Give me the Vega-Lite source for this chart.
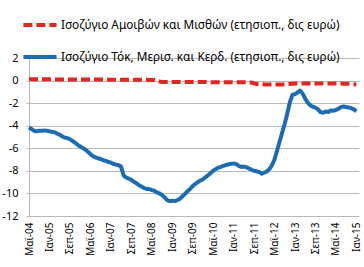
{
  "$schema": "https://vega.github.io/schema/vega-lite/v6.json",
  "autosize": {"type": "none"},
  "padding": {"left": 29, "top": 58, "right": 5, "bottom": 51},
  "width": 330,
  "height": 158,
  "background": "white",
  "config": {
    "view": {"stroke": null},
    "font": "Noto Sans",
    "axis": {"labelFont": "Noto Sans", "labelColor": "#000000", "labelFontSize": 11}
  },
  "data": {"values": [
    {"d":"2004-05","b":-4.15,"r":0.15},{"d":"2004-06","b":-4.3,"r":0.12},{"d":"2004-07","b":-4.45,"r":0.12},{"d":"2004-08","b":-4.5,"r":0.12},
    {"d":"2004-09","b":-4.45,"r":0.12},{"d":"2004-10","b":-4.45,"r":0.12},{"d":"2004-11","b":-4.42,"r":0.12},{"d":"2004-12","b":-4.45,"r":0.12},
    {"d":"2005-01","b":-4.5,"r":0.12},{"d":"2005-02","b":-4.55,"r":0.12},{"d":"2005-03","b":-4.58,"r":0.11},{"d":"2005-04","b":-4.7,"r":0.1},
    {"d":"2005-05","b":-4.8,"r":0.1},{"d":"2005-06","b":-4.95,"r":0.1},{"d":"2005-07","b":-5.05,"r":0.1},{"d":"2005-08","b":-5.1,"r":0.1},
    {"d":"2005-09","b":-5.2,"r":0.1},{"d":"2005-10","b":-5.35,"r":0.1},{"d":"2005-11","b":-5.5,"r":0.1},{"d":"2005-12","b":-5.7,"r":0.1},
    {"d":"2006-01","b":-5.85,"r":0.1},{"d":"2006-02","b":-5.98,"r":0.1},{"d":"2006-03","b":-6.1,"r":0.1},{"d":"2006-04","b":-6.3,"r":0.1},
    {"d":"2006-05","b":-6.5,"r":0.1},{"d":"2006-06","b":-6.7,"r":0.1},{"d":"2006-07","b":-6.8,"r":0.1},{"d":"2006-08","b":-6.88,"r":0.1},
    {"d":"2006-09","b":-6.95,"r":0.1},{"d":"2006-10","b":-7.05,"r":0.1},{"d":"2006-11","b":-7.12,"r":0.1},{"d":"2006-12","b":-7.2,"r":0.08},
    {"d":"2007-01","b":-7.28,"r":0.08},{"d":"2007-02","b":-7.38,"r":0.08},{"d":"2007-03","b":-7.45,"r":0.08},{"d":"2007-04","b":-7.5,"r":0.08},
    {"d":"2007-05","b":-7.62,"r":0.08},{"d":"2007-06","b":-8.4,"r":0.08},{"d":"2007-07","b":-8.6,"r":0.08},{"d":"2007-08","b":-8.68,"r":0.08},
    {"d":"2007-09","b":-8.8,"r":0.08},{"d":"2007-10","b":-8.97,"r":0.08},{"d":"2007-11","b":-9.1,"r":0.08},{"d":"2007-12","b":-9.27,"r":0.08},
    {"d":"2008-01","b":-9.4,"r":0.08},{"d":"2008-02","b":-9.52,"r":0.08},{"d":"2008-03","b":-9.6,"r":0.07},{"d":"2008-04","b":-9.62,"r":0.06},
    {"d":"2008-05","b":-9.7,"r":0.06},{"d":"2008-06","b":-9.78,"r":0.05},{"d":"2008-07","b":-9.9,"r":0.0},
    {"d":"2008-08","b":-10.0,"r":-0.08},{"d":"2008-09","b":-10.15,"r":-0.12},{"d":"2008-10","b":-10.35,"r":-0.12},{"d":"2008-11","b":-10.6,"r":-0.12},
    {"d":"2008-12","b":-10.68,"r":-0.12},{"d":"2009-01","b":-10.65,"r":-0.12},{"d":"2009-02","b":-10.68,"r":-0.12},{"d":"2009-03","b":-10.6,"r":-0.12},
    {"d":"2009-04","b":-10.48,"r":-0.12},{"d":"2009-05","b":-10.25,"r":-0.12},{"d":"2009-06","b":-10.05,"r":-0.12},{"d":"2009-07","b":-9.8,"r":-0.12},
    {"d":"2009-08","b":-9.6,"r":-0.12},{"d":"2009-09","b":-9.35,"r":-0.12},{"d":"2009-10","b":-9.15,"r":-0.12},{"d":"2009-11","b":-9.0,"r":-0.12},
    {"d":"2009-12","b":-8.85,"r":-0.12},{"d":"2010-01","b":-8.75,"r":-0.12},{"d":"2010-02","b":-8.55,"r":-0.12},{"d":"2010-03","b":-8.4,"r":-0.13},
    {"d":"2010-04","b":-8.2,"r":-0.14},{"d":"2010-05","b":-8.0,"r":-0.15},{"d":"2010-06","b":-7.85,"r":-0.15},{"d":"2010-07","b":-7.72,"r":-0.15},
    {"d":"2010-08","b":-7.65,"r":-0.15},{"d":"2010-09","b":-7.55,"r":-0.15},{"d":"2010-10","b":-7.48,"r":-0.15},{"d":"2010-11","b":-7.42,"r":-0.15},
    {"d":"2010-12","b":-7.38,"r":-0.15},{"d":"2011-01","b":-7.35,"r":-0.15},{"d":"2011-02","b":-7.4,"r":-0.15},{"d":"2011-03","b":-7.55,"r":-0.15},
    {"d":"2011-04","b":-7.65,"r":-0.15},{"d":"2011-05","b":-7.62,"r":-0.15},{"d":"2011-06","b":-7.68,"r":-0.16},{"d":"2011-07","b":-7.78,"r":-0.17},
    {"d":"2011-08","b":-7.9,"r":-0.18},{"d":"2011-09","b":-8.0,"r":-0.25},{"d":"2011-10","b":-8.05,"r":-0.3},{"d":"2011-11","b":-8.1,"r":-0.33},
    {"d":"2011-12","b":-8.25,"r":-0.33},{"d":"2012-01","b":-8.15,"r":-0.34},{"d":"2012-02","b":-8.05,"r":-0.34},{"d":"2012-03","b":-7.85,"r":-0.35},
    {"d":"2012-04","b":-7.5,"r":-0.35},{"d":"2012-05","b":-7.0,"r":-0.35},{"d":"2012-06","b":-6.2,"r":-0.35},{"d":"2012-07","b":-5.4,"r":-0.35},
    {"d":"2012-08","b":-4.6,"r":-0.34},{"d":"2012-09","b":-3.8,"r":-0.33},{"d":"2012-10","b":-2.9,"r":-0.32},{"d":"2012-11","b":-1.9,"r":-0.3},
    {"d":"2012-12","b":-1.25,"r":-0.28},{"d":"2013-01","b":-1.2,"r":-0.27},{"d":"2013-02","b":-1.05,"r":-0.27},{"d":"2013-03","b":-0.88,"r":-0.27},
    {"d":"2013-04","b":-1.15,"r":-0.27},{"d":"2013-05","b":-1.6,"r":-0.27},{"d":"2013-06","b":-1.95,"r":-0.27},{"d":"2013-07","b":-2.2,"r":-0.27},
    {"d":"2013-08","b":-2.32,"r":-0.27},{"d":"2013-09","b":-2.4,"r":-0.27},{"d":"2013-10","b":-2.55,"r":-0.27},{"d":"2013-11","b":-2.8,"r":-0.27},
    {"d":"2013-12","b":-2.85,"r":-0.27},{"d":"2014-01","b":-2.75,"r":-0.27},{"d":"2014-02","b":-2.78,"r":-0.27},{"d":"2014-03","b":-2.65,"r":-0.27},
    {"d":"2014-04","b":-2.68,"r":-0.27},{"d":"2014-05","b":-2.6,"r":-0.27},{"d":"2014-06","b":-2.5,"r":-0.27},{"d":"2014-07","b":-2.35,"r":-0.27},
    {"d":"2014-08","b":-2.3,"r":-0.28},{"d":"2014-09","b":-2.35,"r":-0.28},{"d":"2014-10","b":-2.38,"r":-0.28},{"d":"2014-11","b":-2.45,"r":-0.3},
    {"d":"2014-12","b":-2.55,"r":-0.32},{"d":"2015-01","b":-2.72,"r":-0.34}
  ]},
  "transform": [{"fold": ["r", "b"], "as": ["k", "v"]}],
  "mark": {"type": "line", "strokeWidth": 4, "strokeCap": "butt", "strokeJoin": "round"},
  "encoding": {
    "x": {
      "field": "d", "type": "temporal",
      "scale": {"type": "utc", "domain": [{"year": 2004, "month": 5, "date": 1, "utc": true}, {"year": 2015, "month": 2, "date": 1, "utc": true}]},
      "axis": {
        "title": null, "grid": false, "domain": false, "ticks": false,
        "labelAngle": -90, "labelFontSize": 10, "labelPadding": 6, "labelOverlap": false,
        "values": [
          {"year": 2004, "month": 5, "date": 1, "utc": true}, {"year": 2005, "month": 1, "date": 1, "utc": true},
          {"year": 2005, "month": 9, "date": 1, "utc": true}, {"year": 2006, "month": 5, "date": 1, "utc": true},
          {"year": 2007, "month": 1, "date": 1, "utc": true}, {"year": 2007, "month": 9, "date": 1, "utc": true},
          {"year": 2008, "month": 5, "date": 1, "utc": true}, {"year": 2009, "month": 1, "date": 1, "utc": true},
          {"year": 2009, "month": 9, "date": 1, "utc": true}, {"year": 2010, "month": 5, "date": 1, "utc": true},
          {"year": 2011, "month": 1, "date": 1, "utc": true}, {"year": 2011, "month": 9, "date": 1, "utc": true},
          {"year": 2012, "month": 5, "date": 1, "utc": true}, {"year": 2013, "month": 1, "date": 1, "utc": true},
          {"year": 2013, "month": 9, "date": 1, "utc": true}, {"year": 2014, "month": 5, "date": 1, "utc": true},
          {"year": 2015, "month": 1, "date": 1, "utc": true}
        ],
        "labelExpr": "(utcmonth(datum.value) == 0 ? 'Ιαν' : utcmonth(datum.value) == 4 ? 'Μαϊ' : 'Σεπ') + '-' + utcFormat(datum.value, '%y')"
      }
    },
    "y": {
      "field": "v", "type": "quantitative",
      "scale": {"domain": [-12, 2], "nice": false, "zero": false},
      "axis": {
        "title": null, "values": [-12, -10, -8, -6, -4, -2, 0, 2],
        "gridColor": "#b8b8b8", "gridWidth": 1,
        "domain": true, "domainColor": "#b8b8b8",
        "ticks": true, "tickSize": 3, "tickColor": "#b8b8b8",
        "labelPadding": 8, "labelExpr": "datum.value + ''"
      }
    },
    "color": {
      "field": "k", "type": "nominal", "title": null,
      "scale": {"domain": ["r", "b"], "range": ["#e52420", "#1c6cb4"]},
      "legend": {
        "orient": "none", "legendX": -8, "legendY": -52, "direction": "vertical",
        "symbolType": "stroke", "symbolSize": 1100, "symbolStrokeWidth": 4,
        "labelFont": "Noto Sans", "labelFontSize": 11.8, "labelColor": "#000000",
        "labelLimit": 400, "labelOffset": 2, "rowPadding": 5,
        "labelExpr": "datum.value == 'r' ? 'Ισοζύγιο Αμοιβών και Μισθών (ετησιοπ., δις ευρώ)' : 'Ισοζύγιο Τόκ, Μερισ. και Κερδ. (ετησιοπ., δις ευρώ)'"
      }
    },
    "strokeDash": {
      "field": "k", "type": "nominal", "title": null,
      "scale": {"domain": ["r", "b"], "range": [[9, 4], [1, 0]]}
    }
  }
}
